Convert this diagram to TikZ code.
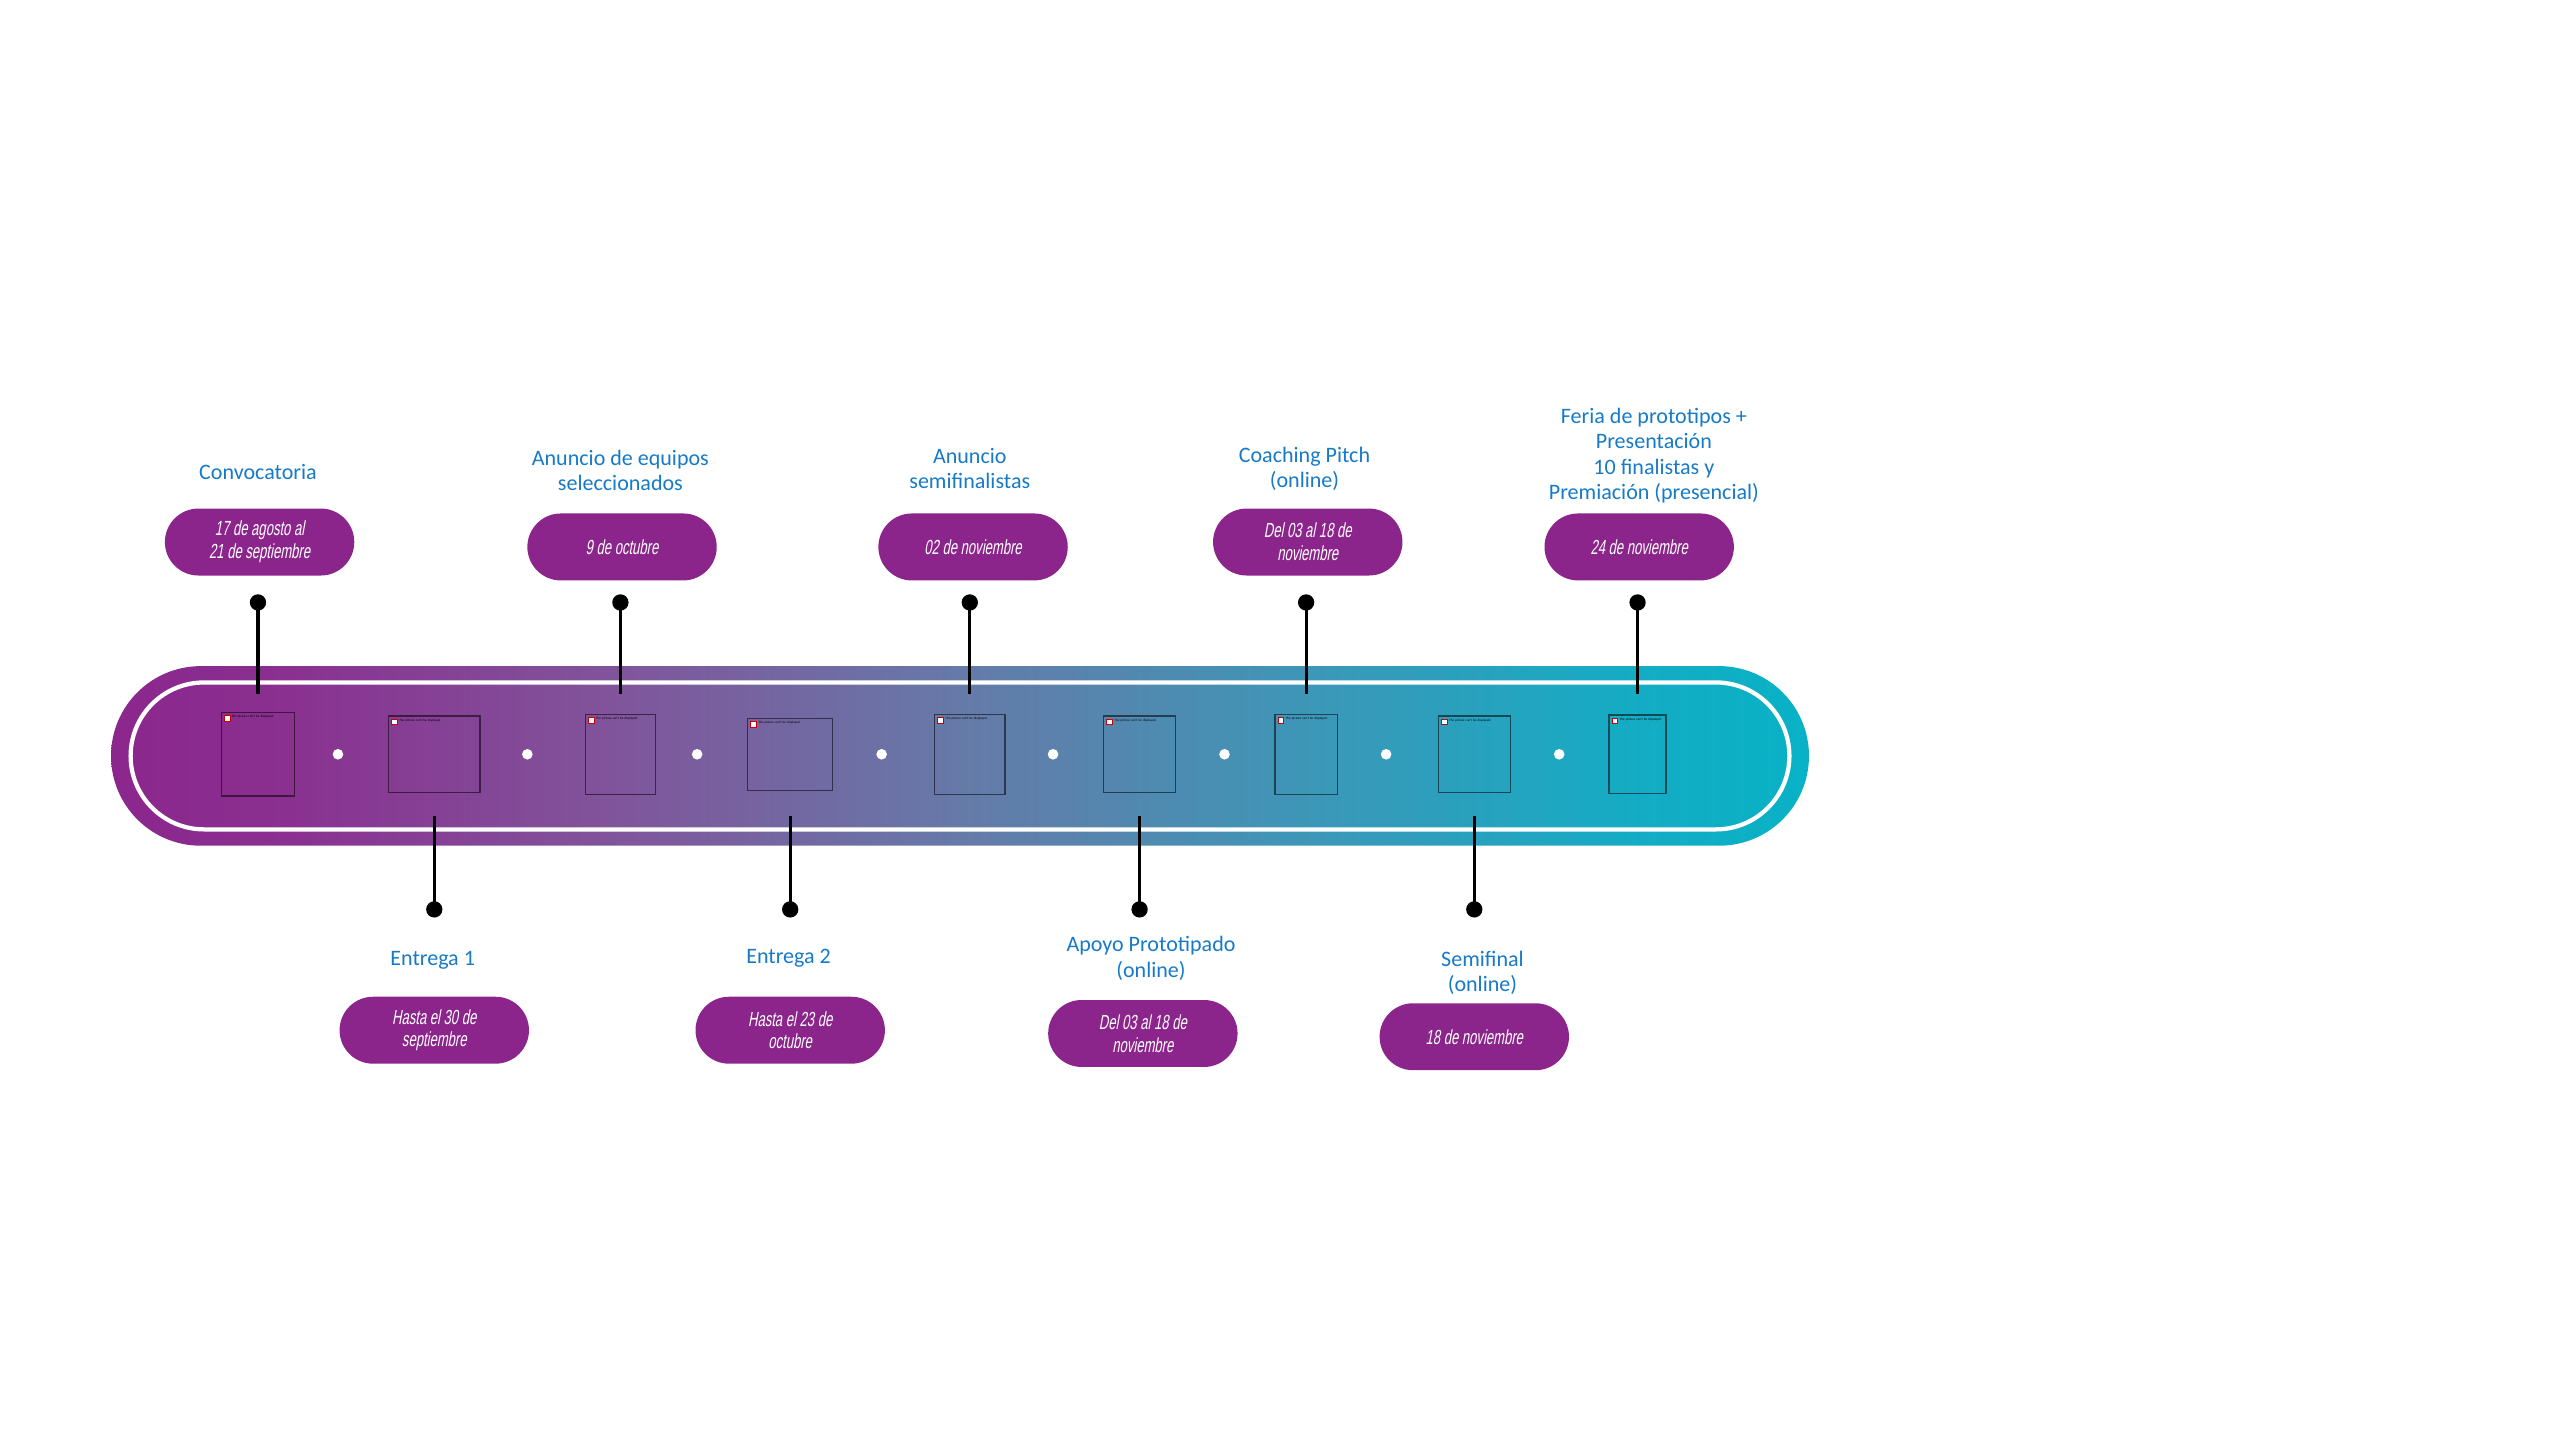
\documentclass[tikz,border=0pt]{standalone}
\usepackage{fontspec}
\usepackage{tikz}
\usetikzlibrary{positioning}
\setmainfont{Carlito}
\newfontfamily\datefont[FakeStretch=0.64,FakeSlant=0.18]{Liberation Sans}
\definecolor{pillpurple}{RGB}{139,36,139}
\definecolor{labelblue}{RGB}{22,122,200}
\pgfdeclarehorizontalshading{bandshade}{100bp}{rgb(0bp)=(0.545,0.149,0.553); rgb(25bp)=(0.545,0.149,0.553); rgb(30bp)=(0.541,0.188,0.565); rgb(40bp)=(0.502,0.333,0.608); rgb(50bp)=(0.4,0.478,0.659); rgb(60bp)=(0.243,0.588,0.718); rgb(70bp)=(0.078,0.675,0.769); rgb(75bp)=(0.031,0.698,0.776); rgb(100bp)=(0.031,0.698,0.776)}

\begin{document}
\begin{tikzpicture}[x=1pt, y=-1pt,
        datepill/.style={fill=pillpurple, rounded corners=20.5pt, minimum width=116pt, minimum height=41pt, inner sep=0pt, text=white, align=center, font=\datefont\fontsize{12.5}{14}\selectfont},
        steplabel/.style={text=labelblue, align=center, inner sep=0pt, font=\fontsize{13.5}{15.5}\selectfont},
        picbox/.style={draw=black, draw opacity=0.55, line width=0.8pt, inner sep=0pt},
        brokenicon/.style={draw=red!80!black, fill=white, line width=0.3pt, minimum size=3.5pt, inner sep=0pt},
        placeholder/.style={inner sep=0pt, align=left, font=\fontsize{2}{2.5}\selectfont},
        whitedot/.style={circle, fill=white, minimum size=6.5pt, inner sep=0pt},
        stemdot/.style={circle, fill=black, minimum size=10pt, inner sep=0pt},
        stem/.style={line width=2pt}]
    \useasboundingbox (0,0) rectangle (1568,882);
    \shade[shading=bandshade, rounded corners=55pt] (68,408) rectangle (1108,518);
    \draw[white, line width=2.6pt, rounded corners=45pt] (80,418) rectangle (1096,508);
    \foreach \n/\x/\w/\h in {1/158/45/51, 2/266/56/47, 3/380/43/49, 4/484/52/44, 5/594/43/49, 6/698/44/47, 7/800/38/49, 8/903/44/47, 9/1003/35/48}{
        \pgfmathsetmacro\tw{\w-8}
        \node[picbox, minimum width=\w, minimum height=\h] (b\n) at (\x,462) {};
        \node[brokenicon, anchor=north west] (i\n) at ([shift={(2,2)}]b\n.north west) {};
        \node[placeholder, text width=\tw pt, anchor=north west] (t\n) at ([xshift=1]i\n.north east) {The picture can't be displayed.};
    }
    \foreach \x [count=\k] in {207,323,427,540,645,750,849,955}
        \node[whitedot] (w\k) at (\x,462) {};
    \foreach \n/\x in {1/158, 3/380, 5/594, 7/800, 9/1003}{
        \node[stemdot] (s\n) at (\x,369) {};
        \coordinate (e\n) at (\x,425);
        \draw[stem] (s\n.center) -- (e\n);
    }
    \foreach \n/\x in {2/266, 4/484, 6/698, 8/903}{
        \coordinate (e\n) at (\x,500);
        \node[stemdot] (s\n) at (\x,557) {};
        \draw[stem] (e\n) -- (s\n.center);
    }
    \foreach \n/\x/\y/\txt in {1/159/332/{17 de agosto al\\21 de septiembre}, 2/266/631/{Hasta el 30 de\\septiembre}, 3/381/335/{9 de octubre}, 4/484/631/{Hasta el 23 de\\octubre}, 5/596/335/{02 de noviembre}, 6/700/633/{Del 03 al 18 de\\noviembre}, 7/801/332/{Del 03 al 18 de\\noviembre}, 8/903/635/{18 de noviembre}, 9/1004/335/{24 de noviembre}}
        \node[datepill] (p\n) at (\x,\y) {\txt};
    \foreach \n/\x/\y/\txt in {1/158/289/{Convocatoria}, 2/265/588/{Entrega 1}, 3/380/288/{Anuncio de equipos\\seleccionados}, 4/483/587/{Entrega 2}, 5/594/287/{Anuncio\\semifinalistas}, 6/705/587/{Apoyo Prototipado\\(online)}, 7/799/287/{Coaching Pitch\\(online)}, 8/908/596/{Semifinal\\(online)}, 9/1013/279/{Feria de prototipos +\\Presentación\\10 finalistas y\\Premiación (presencial)}}
        \node[steplabel] (l\n) at (\x,\y) {\txt};
\end{tikzpicture}
\end{document}
